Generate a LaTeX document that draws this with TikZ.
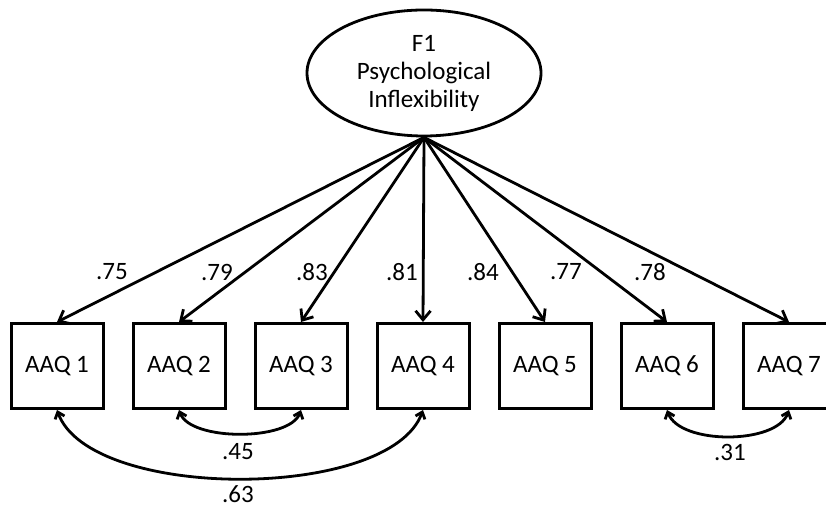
\documentclass[tikz,border=0pt]{standalone}
\usepackage{fontspec}
\setmainfont{Carlito}
\usetikzlibrary{shapes.geometric,arrows.meta}

\begin{document}
\begin{tikzpicture}
	[x=1pt, y=1pt, line width=2.8pt,
	 item node/.style={rectangle, draw, line width=3pt, minimum width=92pt, minimum height=85pt, font=\fontsize{25}{30}\selectfont},
	 factor node/.style={ellipse, draw, minimum width=234pt, minimum height=126pt, inner sep=0pt, align=center, font=\fontsize{25}{28}\selectfont},
	 load/.style={-{Straight Barb[length=9pt,width=15pt]}},
	 cov/.style={{Straight Barb[length=6pt,width=10pt]}-{Straight Barb[length=6pt,width=10pt]}, out=-70, in=-110, looseness=0.7},
	 coef/.style={font=\fontsize{25}{30}\selectfont}]
	\useasboundingbox (0,0) rectangle (826,508);
	\clip (0,0) rectangle (826,508);

	\node[factor node] (F1) at (424,435) {F1\\Psychological\\Inflexibility};

	%observed items
	\foreach \i in {1,...,7}{
		\node[item node] (aaq\i) at ({57+122*(\i-1)},142) {AAQ \i};
	}

	%factor loadings
	\foreach \i/\x/\v in {1/112/.75, 2/217/.79, 3/312/.83, 4/402/.81, 5/483/.84, 6/566/.77, 7/650/.78}{
		\draw[load] (F1.south) -- (aaq\i.north);
		\node[coef] (l\i) at (\x,236) {\v};
	}

	%error covariances
	\draw[cov] (aaq2.south) to (aaq3.south);
	\node[coef] (c23) at (238,56) {.45};
	\draw[cov, looseness=0.68] (aaq1.south) to (aaq4.south);
	\node[coef] (c14) at (238,14) {.63};
	\draw[cov, looseness=0.78] (aaq6.south) to (aaq7.south);
	\node[coef] (c67) at (730,56) {.31};
\end{tikzpicture}
\end{document}
